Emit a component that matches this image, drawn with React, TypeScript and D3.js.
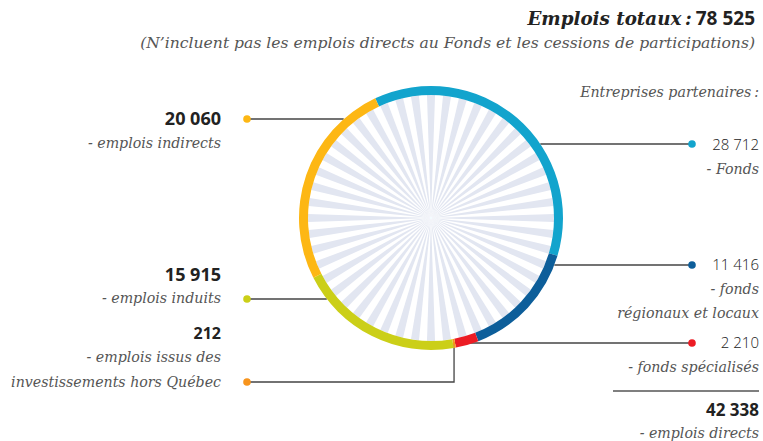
import React from "react";
import * as d3 from "d3";

// segments, clockwise starting from the top-left
const segNames = ["fonds", "regionaux", "specialises", "horsQuebec", "induits", "indirects"];
const segValues = [28712, 11416, 2210, 212, 15915, 20060];
const segColors = ["#12a4cd", "#0d5e9a", "#ec1c24", "#f7941d", "#cbcf18", "#fdb714"];

const title = "Emplois totaux\u202f:";
const totalLabel = "78 525";
const subtitle = "(N\u2019incluent pas les emplois directs au Fonds et les cessions de participations)";
const rightHeader = "Entreprises partenaires\u202f:";
const directsLabel = "42 338";
const directsText = "- emplois directs";

const W = 763;
const H = 441;
const cx = 431;
const cy = 218;
const rOut = 132;
const rIn = 123;
const spokeCount = 48;

const serif = "'DejaVu Serif', serif";
const sans = "'Open Sans', sans-serif";
const lab = 14.2;

export default function App() {
  const pie = d3
    .pie<number>()
    .sort(null)
    .value((d) => d)
    .startAngle((-25 * Math.PI) / 180)
    .endAngle((335 * Math.PI) / 180);
  const arcs = pie(segValues);

  const ring = d3.arc<d3.PieArcDatum<number>>().innerRadius(rIn).outerRadius(rOut);

  // light spokes in the middle
  const step = (2 * Math.PI) / spokeCount;
  const spokeArc = d3.arc<any>().innerRadius(0).outerRadius(rIn);
  const spokes = d3.range(spokeCount).map((i) =>
    spokeArc({ startAngle: i * step - step / 4, endAngle: i * step + step / 4 })
  );

  // where a horizontal line at y meets the ring
  const edgeX = (y: number, side: number) => cx + side * Math.sqrt(rOut * rOut - (y - cy) * (y - cy));

  const horsArc = arcs[3];
  const mid = (horsArc.startAngle + horsArc.endAngle) / 2;
  const horsX = cx + ((rIn + rOut) / 2) * Math.sin(mid);

  const leftDot = 247;
  const rightDot = 692;

  const connectors = [
    { seg: 0, pts: [[edgeX(144, 1), 144], [rightDot, 144]] },
    { seg: 1, pts: [[edgeX(265, 1), 265], [rightDot, 265]] },
    { seg: 2, pts: [[horsX, 343], [rightDot, 343]] },
    { seg: 3, pts: [[horsX, 343], [horsX, 382], [leftDot, 382]] },
    { seg: 4, pts: [[edgeX(299, -1), 299], [leftDot, 299]] },
    { seg: 5, pts: [[edgeX(119, -1), 119], [leftDot, 119]] },
  ];
  const line = d3.line();

  const leftX = 221;
  const rightX = 759;

  return (
    <svg width={W} height={H} style={{ position: "absolute", left: 0, top: 0, background: "#fff" }}>
      {/* title */}
      <text x={755} y={25} textAnchor="end" fill="#222">
        <tspan fontFamily={serif} fontStyle="italic" fontWeight="bold" fontSize={18.3}>
          {title}
        </tspan>
        <tspan fontFamily={sans} fontWeight="bold" fontSize={19} dx={4}>
          {totalLabel}
        </tspan>
      </text>
      <text x={755} y={48} textAnchor="end" fontFamily={serif} fontStyle="italic" fontSize={15.6} fill="#555">
        {subtitle}
      </text>

      {/* spokes */}
      <g transform={`translate(${cx},${cy})`}>
        {spokes.map((d, i) => (
          <path key={i} d={d || ""} fill="#e2e6f1" />
        ))}
      </g>

      {/* connectors, under the ring */}
      {connectors.map((c, i) => (
        <path key={i} d={line(c.pts as [number, number][]) || ""} fill="none" stroke="#444" strokeWidth={1.3} />
      ))}
      {connectors.map((c, i) => {
        const end = c.pts[c.pts.length - 1];
        return <circle key={"d" + i} cx={end[0]} cy={end[1]} r={3.8} fill={segColors[c.seg]} />;
      })}

      {/* ring */}
      <g transform={`translate(${cx},${cy})`}>
        {arcs.map((a, i) => (
          <path key={segNames[i]} d={ring(a) || ""} fill={segColors[i]} />
        ))}
      </g>

      {/* left labels */}
      <g textAnchor="end">
        <text x={leftX} y={125} fontFamily={sans} fontWeight="bold" fontSize={18} fill="#222">
          20 060
        </text>
        <text x={leftX} y={148} fontFamily={serif} fontStyle="italic" fontSize={lab} fill="#555">
          - emplois indirects
        </text>
        <text x={leftX} y={281} fontFamily={sans} fontWeight="bold" fontSize={18} fill="#222">
          15 915
        </text>
        <text x={leftX} y={303} fontFamily={serif} fontStyle="italic" fontSize={lab} fill="#555">
          - emplois induits
        </text>
        <text x={leftX} y={339} fontFamily={sans} fontWeight="bold" fontSize={16} fill="#222">
          212
        </text>
        <text x={leftX} y={362} fontFamily={serif} fontStyle="italic" fontSize={lab} fill="#555">
          - emplois issus des
        </text>
        <text x={leftX} y={387} fontFamily={serif} fontStyle="italic" fontSize={lab} fill="#555">
          investissements hors Québec
        </text>
      </g>

      {/* right labels */}
      <g textAnchor="end">
        <text x={rightX} y={97} fontFamily={serif} fontStyle="italic" fontSize={lab} fill="#555">
          {rightHeader}
        </text>
        <text x={rightX} y={150} fontFamily={sans} fontWeight={300} fontSize={15} fill="#222">
          28 712
        </text>
        <text x={rightX} y={174} fontFamily={serif} fontStyle="italic" fontSize={lab} fill="#555">
          - Fonds
        </text>
        <text x={rightX} y={270} fontFamily={sans} fontWeight={300} fontSize={15} fill="#222">
          11 416
        </text>
        <text x={rightX} y={294} fontFamily={serif} fontStyle="italic" fontSize={lab} fill="#555">
          - fonds
        </text>
        <text x={rightX} y={318} fontFamily={serif} fontStyle="italic" fontSize={lab} fill="#555">
          régionaux et locaux
        </text>
        <text x={rightX} y={348} fontFamily={sans} fontWeight={300} fontSize={15} fill="#222">
          2 210
        </text>
        <text x={rightX} y={372} fontFamily={serif} fontStyle="italic" fontSize={lab} fill="#555">
          - fonds spécialisés
        </text>
        <line x1={613} x2={rightX} y1={391} y2={391} stroke="#555" strokeWidth={1.5} />
        <text x={rightX} y={416} fontFamily={sans} fontWeight="bold" fontSize={17} fill="#222">
          {directsLabel}
        </text>
        <text x={rightX} y={438} fontFamily={serif} fontStyle="italic" fontSize={lab} fill="#555">
          {directsText}
        </text>
      </g>
    </svg>
  );
}
